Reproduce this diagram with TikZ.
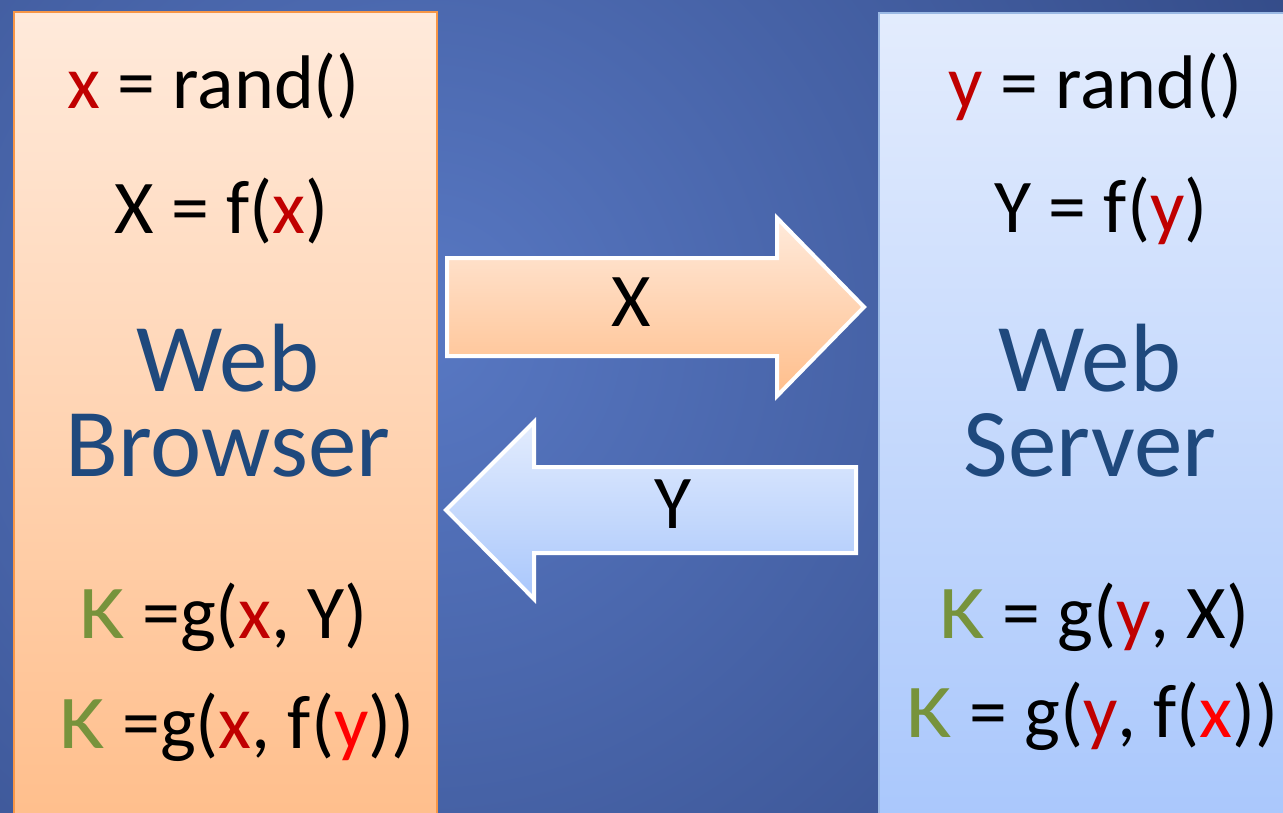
\documentclass[tikz,border=0pt]{standalone}
\usepackage{fontspec}
\setmainfont{Carlito}
\definecolor{bgA}{HTML}{5878C3}
\definecolor{bgB}{HTML}{2C427C}
\definecolor{orTop}{HTML}{FFEADB}
\definecolor{orBot}{HTML}{FFBE8B}
\definecolor{orLine}{HTML}{F79646}
\definecolor{blTop}{HTML}{E3ECFD}
\definecolor{blBot}{HTML}{A9C7FC}
\definecolor{blLine}{HTML}{9BB9E4}
\definecolor{drk}{HTML}{C00000}
\definecolor{brt}{HTML}{FF0000}
\definecolor{grn}{HTML}{77933C}
\definecolor{ttl}{HTML}{1F497D}
\tikzset{
  eq/.style={anchor=base west, inner sep=0pt, font=\fontsize{21.6}{25}\selectfont},
  ttlbl/.style={anchor=base, inner sep=0pt, text=ttl, align=center, font=\fontsize{27.6}{24.2}\selectfont},
  arrlbl/.style={anchor=base, inner sep=0pt, font=\fontsize{21.6}{25}\selectfont},
  xarrow/.style={draw=white, line width=0.04cm, top color=orTop, bottom color=orBot, line join=miter},
  yarrow/.style={draw=white, line width=0.04cm, top color=blTop, bottom color=blBot, line join=miter},
}
\newcommand{\dr}[1]{\textcolor{drk}{#1}}
\newcommand{\br}[1]{\textcolor{brt}{#1}}
\newcommand{\gk}{\textcolor{grn}{\scalebox{1.15}[1]{K}}}
\begin{document}
\begin{tikzpicture}[x=0.01cm,y=-0.01cm]
\useasboundingbox (0,0) rectangle (1283,812);
% background
\begin{scope}
\clip (0,0) rectangle (1283,812);
\fill[bgB] (0,0) rectangle (1283,812);
\shade[inner color=bgA, outer color=bgB] (420,330) circle (1150);
\end{scope}
% boxes
\shade[top color=orTop, bottom color=orBot] (14,12) rectangle (437,830);
\draw[orLine, line width=0.02cm] (14,830) -- (14,12) -- (437,12) -- (437,830);
\shade[top color=blTop, bottom color=blBot] (879,13) rectangle (1300,830);
\draw[blLine, line width=0.015cm] (879,830) -- (879,13) -- (1300,13);
% arrows
\path[xarrow] (447,258) -- (777,258) -- (777,218) -- (864,307) -- (777,396) -- (777,356) -- (447,356) -- cycle;
\path[yarrow] (856,467) -- (534,467) -- (534,422) -- (446,510) -- (534,599) -- (534,553) -- (856,553) -- cycle;
\node[arrlbl] (lx) at (631,326) {X};
\node[arrlbl] (ly) at (673,528) {Y};
% left texts
\node[eq] (l1) at (67,108) {\dr{x} = rand()};
\node[eq] (l2) at (114,233) {X = f(\dr{x})};
\node[ttlbl, anchor=north] (lwb) at (228,323) {Web\\Browser};
\node[eq] (l3) at (79,638) {\gk{} =g(\dr{x}, Y)};
\node[eq] (l4) at (59,748) {\gk{} =g(\dr{x}, f(\br{y}))};
% right texts
\node[eq] (r1) at (948,108) {\dr{y} = rand()};
\node[eq] (r2) at (994,232) {Y = f(\dr{y})};
\node[ttlbl, anchor=north] (rws) at (1090,323) {Web\\Server};
\node[eq] (r3) at (939,638) {\gk{} = g(\dr{y}, X)};
\node[eq] (r4) at (906,737) {\gk{} = g(\dr{y}, f(\br{x}))};
\end{tikzpicture}
\end{document}
